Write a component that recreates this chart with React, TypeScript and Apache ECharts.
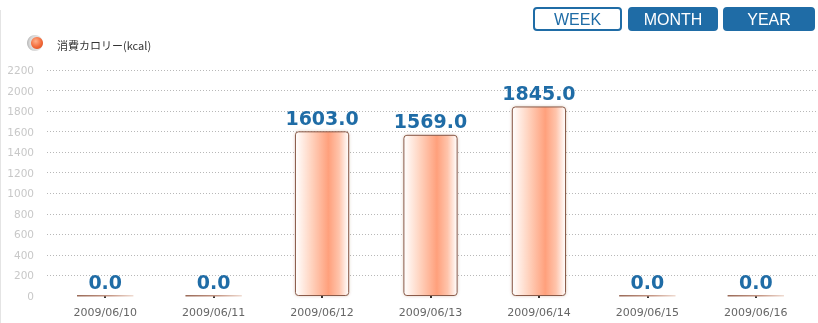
import React, { useEffect, useRef } from "react";
import * as echarts from "echarts";

const categories = ["2009/06/10", "2009/06/11", "2009/06/12", "2009/06/13", "2009/06/14", "2009/06/15", "2009/06/16"];
const calories = [0, 0, 1603, 1569, 1845, 0, 0];
const legendName = "消費カロリー(kcal)";
const buttons = ["WEEK", "MONTH", "YEAR"];
const yMax = 2200;
const yInterval = 200;

const BLUE = "#1f6ca6";

export default function App() {
  const ref = useRef<HTMLDivElement>(null);
  useEffect(() => {
    if (!ref.current) return;
    const chart = echarts.init(ref.current, null, { renderer: "svg" });
    const barGradient = new echarts.graphic.LinearGradient(0, 0, 1, 0, [
      { offset: 0, color: "#ffffff" },
      { offset: 0.3, color: "#ffd3bf" },
      { offset: 0.62, color: "#ffa07c" },
      { offset: 0.82, color: "#ffc4ab" },
      { offset: 1, color: "#ffffff" },
    ]);
    const zeroGradient = new echarts.graphic.LinearGradient(0, 0, 1, 0, [
      { offset: 0, color: "#9a6a58" },
      { offset: 0.6, color: "#c89a88" },
      { offset: 1, color: "#f0dcd2" },
    ]);
    const btnX = [533, 628, 723];
    const btnW = [89, 90, 92];
    const graphics: any[] = [
      { type: "line", shape: { x1: 0.5, y1: 10, x2: 0.5, y2: 323 }, style: { stroke: "#e4e4e4", lineWidth: 1 } },
      {
        type: "circle",
        shape: { cx: 35, cy: 43, r: 8 },
        style: {
          fill: new echarts.graphic.RadialGradient(0.7, 0.5, 0.9, [
            { offset: 0, color: "#ffffff" },
            { offset: 0.6, color: "#d8d8d8" },
            { offset: 1, color: "#8a8a8a" },
          ]),
        },
      },
      {
        type: "circle",
        shape: { cx: 37, cy: 43, r: 6 },
        style: {
          fill: new echarts.graphic.RadialGradient(0.4, 0.35, 0.8, [
            { offset: 0, color: "#ffb08a" },
            { offset: 0.6, color: "#f26a3a" },
            { offset: 1, color: "#d94e20" },
          ]),
        },
      },
      {
        type: "text",
        x: 57,
        y: 45,
        style: { text: legendName, fill: "#333", font: "11px 'Noto Sans CJK JP', sans-serif", textVerticalAlign: "middle" },
      },
    ];
    buttons.forEach((b, i) => {
      const active = i === 0;
      graphics.push({
        type: "rect",
        shape: { x: btnX[i] + 1, y: 8, width: btnW[i] - 2, height: 22, r: 3 },
        style: { fill: active ? "#ffffff" : BLUE, stroke: BLUE, lineWidth: 2 },
      });
      graphics.push({
        type: "text",
        x: btnX[i] + btnW[i] / 2,
        y: 19,
        style: {
          text: b,
          fill: active ? BLUE : "#ffffff",
          font: "16px 'Liberation Sans', Arial, sans-serif",
          textAlign: "center",
          textVerticalAlign: "middle",
        },
      });
    });

    chart.setOption({
      animation: false,
      grid: [
        { left: 47, right: 0, top: 70, bottom: 27 },
        { left: 51, right: 8, top: 70, bottom: 27 },
      ],
      xAxis: [
        { type: "category", gridIndex: 0, data: categories, show: false },
        {
          type: "category",
          gridIndex: 1,
          data: categories,
          offset: 5,
          axisLine: { show: false },
          axisTick: { show: true, alignWithLabel: true, length: 2, lineStyle: { color: "#333", width: 2 } },
          axisLabel: { color: "#666", fontSize: 11, fontFamily: "'DejaVu Sans', sans-serif", margin: 6 },
        },
      ],
      yAxis: [
        {
          type: "value",
          gridIndex: 0,
          min: 0,
          max: yMax,
          interval: yInterval,
          axisLine: { show: false },
          axisTick: { show: false },
          axisLabel: {
            color: "#c8c8c8",
            fontSize: 10.5,
            fontFamily: "'DejaVu Sans', sans-serif",
            margin: 13,
            formatter: (v: number) => String(v),
          },
          splitLine: {
            show: true,
            lineStyle: { color: "#b8b8b8", type: [1, 2], width: 1 },
            showMinLine: false,
          },
        },
        { type: "value", gridIndex: 1, min: 0, max: yMax, interval: yInterval, show: false, splitLine: { show: false } },
      ],
      graphic: graphics,
      series: [
        {
          type: "bar",
          xAxisIndex: 1,
          yAxisIndex: 1,
          data: calories,
          barWidth: "50%",
          itemStyle: {
            color: barGradient,
            borderColor: "#8a5a48",
            borderWidth: 1,
            borderRadius: 3,
            shadowBlur: 3,
            shadowColor: "rgba(120,60,40,0.25)",
          },
          label: {
            show: true,
            position: "top",
            distance: 4,
            formatter: (p: any) => Number(p.value).toFixed(1),
            color: BLUE,
            fontSize: 19,
            fontWeight: "bold",
            fontFamily: "'DejaVu Sans', sans-serif",
          },
        },
        {
          type: "custom",
          xAxisIndex: 1,
          yAxisIndex: 1,
          data: calories.map((v, i) => [i, v]),
          silent: true,
          z: 3,
          renderItem: (params: any, api: any) => {
            if (api.value(1) !== 0) return null;
            const p = api.coord([api.value(0), 0]);
            const w = api.size([1, 0])[0] * 0.52;
            return {
              type: "rect",
              shape: { x: p[0] - w / 2, y: p[1] - 1, width: w, height: 1.5 },
              style: { fill: zeroGradient },
            };
          },
        },
      ],
    });
    return () => chart.dispose();
  }, []);
  return <div ref={ref} style={{ position: "fixed", left: 0, top: 0, width: 818, height: 323 }} />;
}
